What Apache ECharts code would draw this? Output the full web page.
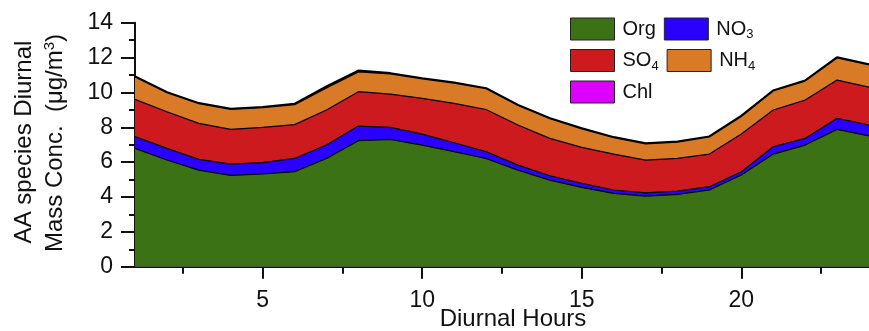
<!DOCTYPE html>
<html><head><meta charset="utf-8">
<script src="https://cdn.jsdelivr.net/npm/echarts@6/dist/echarts.min.js"></script>
<style>html,body{margin:0;padding:0;background:#fff}#c{width:869px;height:331px}</style>
</head><body><div id="c"></div>
<script>
const hours = [1,2,3,4,5,6,7,8,9,10,11,12,13,14,15,16,17,18,19,20,21,22,23,24];
const org = [6.79,6.12,5.54,5.24,5.32,5.45,6.21,7.23,7.30,6.98,6.60,6.21,5.54,4.97,4.55,4.21,4.05,4.15,4.40,5.26,6.46,6.98,7.88,7.50];
const no3 = [0.67,0.67,0.62,0.65,0.65,0.76,0.77,0.84,0.69,0.63,0.51,0.39,0.29,0.25,0.23,0.19,0.19,0.19,0.19,0.19,0.42,0.38,0.63,0.63];
const so4 = [2.14,2.10,2.06,1.99,2.02,1.94,2.01,1.97,1.91,2.05,2.26,2.42,2.30,2.14,2.07,2.06,1.88,1.87,1.87,2.16,2.11,2.20,2.20,2.17];
const nh4 = [1.28,1.09,1.13,1.14,1.13,1.15,1.26,1.14,1.16,1.12,1.16,1.19,1.12,1.13,1.06,0.94,0.93,0.94,0.98,1.01,1.09,1.09,1.27,1.28];
const chl = [0.02,0.02,0.02,0.02,0.02,0.03,0.08,0.06,0.03,0.02,0.02,0.02,0.02,0.02,0.02,0.02,0.02,0.02,0.02,0.02,0.02,0.02,0.02,0.02];
const xTickLabels = [5,10,15,20];
const xMinorTicks = [2.5,7.5,12.5,17.5,22.5];

const FONT = '"Liberation Sans", Arial, sans-serif';
const seriesDefs = [
  {name:'Org', data:org, color:'#3c7216', lw:1.2},
  {name:'NO3', data:no3, color:'#2a00ff', lw:1.2},
  {name:'SO4', data:so4, color:'#cc1a1f', lw:1.2},
  {name:'NH4', data:nh4, color:'#d97a26', lw:1.2},
  {name:'Chl', data:chl, color:'#dd00ff', lw:2.6}
];
// cumulative (stacked) tops, computed from the component arrays
const cum = [];
seriesDefs.forEach((d,k)=>{
  cum.push(hours.map((h,i)=> (k? cum[k-1][i][1] : 0) + d.data[i]).map((v,i)=>[hours[i], +v.toFixed(3)]));
});
const labelMap = {
  'Org':'{a|Org}', 'NO3':'{a|NO}{s|3}', 'SO4':'{a|SO}{s|4}', 'NH4':'{a|NH}{s|4}', 'Chl':'{a|Chl}'
};
const chart = echarts.init(document.getElementById('c'), null, {renderer:'canvas'});
chart.setOption({
  animation:false,
  backgroundColor:'#fff',
  grid:{left:135, top:22.7, bottom:64.3, right:-7.75, containLabel:false},
  legend:{
    left:570, top:17.5, width:200, orient:'horizontal', padding:0,
    itemWidth:44, itemHeight:22, itemGap:8, icon:'rect',
    itemStyle:{borderColor:'#222', borderWidth:1},
    formatter: n => labelMap[n],
    textStyle:{fontFamily:FONT, color:'#111',
      rich:{a:{fontSize:20, fontFamily:FONT, color:'#111', lineHeight:24, padding:[0,0,0,3]},
            s:{fontSize:13, fontFamily:FONT, color:'#111', lineHeight:13, verticalAlign:'bottom'}}},
    data:['Org','NO3','SO4','NH4','Chl']
  },
  xAxis:[{
    type:'value', min:1, max:24, position:'bottom',
    axisLine:{lineStyle:{color:'#111', width:2}},
    axisTick:{customValues:xTickLabels, length:12, lineStyle:{color:'#111', width:2}},
    axisLabel:{customValues:xTickLabels, fontSize:23, fontFamily:FONT, color:'#111', margin:22},
    splitLine:{show:false}
  },{
    type:'value', min:1, max:24, position:'bottom', gridIndex:0,
    axisLine:{show:false},
    axisTick:{customValues:xMinorTicks, length:7, lineStyle:{color:'#111', width:2}},
    axisLabel:{show:false},
    splitLine:{show:false}
  }],
  yAxis:{
    type:'value', min:0, max:14, interval:2,
    axisLine:{show:true, lineStyle:{color:'#111', width:2}},
    axisTick:{show:true, length:14, lineStyle:{color:'#111', width:2}},
    minorTick:{show:true, splitNumber:2, length:6, lineStyle:{color:'#111', width:2}},
    axisLabel:{fontSize:23, fontFamily:FONT, color:'#111', margin:22},
    splitLine:{show:false}
  },
  graphic:[
    {type:'text', x:24, y:142, rotation:Math.PI/2,
     style:{text:'AA species Diurnal', fontSize:24, fontFamily:FONT, fill:'#111', align:'center', verticalAlign:'middle'}},
    {type:'text', x:55, y:143, rotation:Math.PI/2,
     style:{text:'{a|Mass Conc.  (μg/m}{p|3}{a|)}', fill:'#111', align:'center', verticalAlign:'middle',
       rich:{a:{fontSize:24, fontFamily:FONT, fill:'#111', lineHeight:26}, p:{fontSize:15, fontFamily:FONT, fill:'#111', lineHeight:15, verticalAlign:'top'}}}},
    {type:'text', x:513, y:319,
     style:{text:'Diurnal Hours', fontSize:24, fontFamily:FONT, fill:'#111', align:'center', verticalAlign:'middle'}}
  ],
  series: seriesDefs.map((d,k)=>({
    name:d.name, type:'line', xAxisIndex:0,
    data:cum[k], symbol:'none', smooth:false,
    z: 10 - k,
    itemStyle:{color:d.color},
    lineStyle:{color:'#000', width:d.lw},
    areaStyle:{color:d.color, opacity:1, origin:'start'}
  }))
});
</script></body></html>
